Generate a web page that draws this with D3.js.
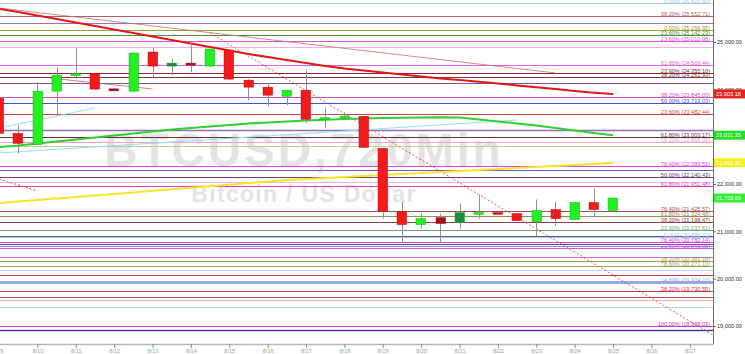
<!DOCTYPE html>
<html>
<head>
<meta charset="utf-8">
<script src="https://cdnjs.cloudflare.com/ajax/libs/d3/7.8.5/d3.min.js"></script>
<style>
  body { margin: 0; background: #fff; }
  svg { display: block; font-family: "Liberation Sans", Arial, sans-serif; }
</style>
</head>
<body>
<div id="chart"></div>
<script>
// BTCUSD 720 min candles, 9 Aug - 25 Aug 2022
const startDate = new Date(2022, 7, 9, 0, 0);
const opens  = [23813, 23071, 22838, 23961, 24300, 24322, 24010, 23961, 24788, 24491, 24555, 24491, 24830, 24194, 24046, 23855, 23982, 23370, 23425, 23431, 22753, 21417, 21142, 21290, 21184, 21390, 21400, 21375, 21205, 21460, 21248, 21608, 21438];
const highs  = [23850, 23240, 24152, 24470, 24873, 24340, 24020, 24780, 24873, 24640, 25021, 24860, 24840, 24210, 24131, 23990, 24406, 23622, 23516, 23440, 22760, 21629, 21375, 21375, 21587, 21778, 21400, 21380, 21672, 21629, 21620, 21905, 21710];
const lows   = [23050, 22647, 22816, 23452, 24258, 23990, 23970, 23950, 24258, 24300, 24364, 24480, 24200, 23770, 23643, 23664, 23283, 23177, 23346, 22760, 21269, 20760, 21057, 20760, 21057, 21269, 21395, 21220, 20887, 21120, 21240, 21290, 21430];
const closes = [23071, 22859, 23961, 24300, 24330, 24004, 23980, 24767, 24491, 24555, 24512, 24852, 24216, 24046, 23876, 23982, 23368, 23400, 23435, 22774, 21417, 21142, 21269, 21163, 21396, 21400, 21395, 21226, 21438, 21269, 21608, 21460, 21703.83];

// moving averages (one value per candle)
const maRed    = [25701, 25634, 25560, 25486, 25412, 25338, 25264, 25190, 25116, 25042, 24968, 24894, 24820, 24746, 24683, 24620, 24556, 24493, 24440, 24398, 24356, 24313, 24271, 24229, 24197, 24159, 24121, 24083, 24045, 24007, 23965, 23930, 23903.18];
const maGreen  = [22782, 22813, 22856, 22898, 22940, 22982, 23025, 23067, 23109, 23151, 23183, 23215, 23246, 23278, 23299, 23320, 23342, 23356, 23373, 23384, 23394, 23399, 23405, 23411, 23405, 23363, 23320, 23278, 23236, 23183, 23130, 23077, 23031.35];
const maYellow = [21599, 21628, 21662, 21694, 21725, 21759, 21791, 21822, 21856, 21888, 21922, 21953, 21985, 22019, 22051, 22082, 22106, 22127, 22148, 22169, 22190, 22211, 22232, 22254, 22275, 22296, 22317, 22338, 22359, 22380, 22401, 22422, 22451.36];

// fibonacci / support levels: price, label, colour
const levelPrices = [25825.60, 25552.71, 25400, 25256.95, 25142.23, 25010.95, 24894, 24509.44, 24355.10, 24261.93, 24130, 23845.03, 23713.03, 23482.44, 23150, 23003.17, 22895.39, 22800, 22389.53, 22290, 22140.43, 22040, 21951.48, 21425.57, 21324.48, 21198.47, 21037.61, 20905, 20886.70, 20782.14, 20740, 20700, 20645.05, 20458, 20381.16, 20271.10, 20183, 20077, 19934.22, 19730.55, 19613, 19549, 19401, 18999.03, 18915];
const levelLabels = ["0.00%", "38.20%", "", "0.00%", "23.60%", "23.60%", "", "61.80%", "23.60%", "38.20%", "", "38.20%", "50.00%", "23.60%", "", "61.80%", "38.20%", "", "76.40%", "", "50.00%", "", "61.80%", "76.40%", "61.80%", "38.20%", "23.60%", "", "0.00%", "76.40%", "", "", "23.60%", "", "38.20%", "78.60%", "", "", "14.60%", "38.20%", "", "", "", "100.00%", ""];
const levelColors = ["#a8c8f0", "#b06070", "#a070c0", "#a0a040", "#50903a", "#e050e0", "#f0b0e0", "#e060e0", "#902030", "#704040", "#8050a0", "#c050c0", "#5050c0", "#c04848", "#9070b0", "#603838", "#f0a0d0", "#c8c890", "#e040e0", "#6060c0", "#704070", "#f0b8d8", "#e040c0", "#a05050", "#909050", "#904040", "#70a070", "#6050a0", "#a8c8f0", "#d040d0", "#6040a0", "#7090e0", "#e050e0", "#e060e0", "#a0a050", "#a0a050", "#b0d8f0", "#c04040", "#98a8e8", "#c04040", "#c04848", "#f0b0b0", "#b8d0e8", "#c040c0", "#4040a0"];

// trendlines: [candle index, price] pairs
const trendDashed = [[11, 25190], [37.2, 18810]];
const trendThin   = [[0, 25718], [29, 24345]];
const trendShort  = [[2.66, 24239], [8, 24007]];
const trendLeft   = [[0, 22106], [2, 21852]];
const trendCyan   = [[0, 22655], [27, 23352]];
const trendCyan2  = [[0, 23183], [5, 23606]];

const priceTicks = [19000, 20000, 21000, 22000, 23000, 24000, 25000];
const darkCandles = [6, 9, 10, 23, 24];

const W = 745, H = 354, axisX = 713, axisY = 344;
const svg = d3.select("#chart").append("svg").attr("width", W).attr("height", H);

const dateOf = i => new Date(startDate.getTime() + i * 12 * 3600 * 1000);
const x = d3.scaleTime()
  .domain([startDate, new Date(2022, 7, 27, 14, 30)])
  .range([-1, axisX]);
const y = d3.scaleLinear().domain([19000, 25000]).range([326, 42]);
const bw = (x(dateOf(1)) - x(dateOf(0))) * 0.5;

// watermark
svg.append("text").attr("x", 304).attr("y", 166).attr("text-anchor", "middle")
  .attr("font-size", 46).attr("font-weight", "bold").attr("fill", "#e4e4e4")
  .attr("letter-spacing", 3)
  .text("BTCUSD,720Min");
svg.append("text").attr("x", 304).attr("y", 202).attr("text-anchor", "middle")
  .attr("font-size", 23).attr("font-weight", "bold").attr("fill", "#e4e4e4")
  .attr("letter-spacing", 1.3)
  .text("Bitcoin / US Dollar");

const plot = svg.append("g");
plot.append("clipPath").attr("id", "clip").append("rect")
  .attr("x", 0).attr("y", 0).attr("width", axisX).attr("height", axisY);

// horizontal levels
const levels = levelPrices.map((p, i) => ({ p, label: levelLabels[i], color: levelColors[i] }));
plot.selectAll(".lvl").data(levels).enter().append("line")
  .attr("x1", 0).attr("x2", axisX)
  .attr("y1", d => Math.round(y(d.p)) + 0.5).attr("y2", d => Math.round(y(d.p)) + 0.5)
  .attr("stroke", d => d.color)
  .attr("stroke-width", d => d.p === 19934.22 ? 3 : (d.p === 23150 || d.p === 18915 ? 1.6 : 1));

plot.selectAll(".lvlText").data(levels.filter(d => d.label)).enter().append("text")
  .attr("x", axisX - 3).attr("y", d => Math.round(y(d.p)) - 0.5)
  .attr("text-anchor", "end").attr("font-size", 5.6).attr("fill", d => d.color)
  .text(d => `${d.label} (${d3.format(",.2f")(d.p)})`);

// trend lines
const tl = d3.line().x(d => x(dateOf(d[0]))).y(d => y(d[1]));
const g = plot.append("g").attr("clip-path", "url(#clip)");
g.append("path").attr("d", tl(trendThin)).attr("stroke", "#c07070").attr("stroke-width", 0.8).attr("fill", "none");
g.append("path").attr("d", tl(trendShort)).attr("stroke", "#d06060").attr("stroke-width", 0.8).attr("fill", "none");
g.append("path").attr("d", tl(trendLeft)).attr("stroke", "#d04040").attr("stroke-dasharray", "2,2").attr("fill", "none");
g.append("path").attr("d", tl(trendDashed)).attr("stroke", "#d03030").attr("stroke-width", 0.8).attr("stroke-dasharray", "2,2").attr("fill", "none");
g.append("path").attr("d", tl(trendCyan)).attr("stroke", "#90e0f0").attr("stroke-width", 1).attr("fill", "none");
g.append("path").attr("d", tl(trendCyan2)).attr("stroke", "#90e0f0").attr("stroke-width", 1).attr("fill", "none");

// moving averages
const ma = d3.line().x((d, i) => x(dateOf(i))).y(d => y(d));
g.append("path").attr("d", ma(maYellow)).attr("stroke", "#f5e625").attr("stroke-width", 2).attr("fill", "none");
g.append("path").attr("d", ma(maGreen)).attr("stroke", "#30d030").attr("stroke-width", 2).attr("fill", "none");
g.append("path").attr("d", ma(maRed)).attr("stroke", "#e01818").attr("stroke-width", 2).attr("fill", "none");

// candles
const candles = opens.map((o, i) => ({ i, o, h: highs[i], l: lows[i], c: closes[i] }));
const cg = g.selectAll(".candle").data(candles).enter().append("g");
cg.append("line")
  .attr("x1", d => Math.round(x(dateOf(d.i))) + 0.5).attr("x2", d => Math.round(x(dateOf(d.i))) + 0.5)
  .attr("y1", d => y(d.h)).attr("y2", d => y(d.l))
  .attr("stroke", "#909090").attr("stroke-width", 1);
cg.append("rect")
  .attr("x", d => Math.round(x(dateOf(d.i)) - bw / 2))
  .attr("y", d => y(Math.max(d.o, d.c)))
  .attr("width", bw)
  .attr("height", d => Math.max(2, Math.abs(y(d.o) - y(d.c))))
  .attr("fill", d => {
    const up = d.c >= d.o, dark = darkCandles.includes(d.i);
    if (up) return dark ? "#208a40" : "#22f022";
    return dark ? "#a01020" : "#f21a1a";
  })
  .attr("stroke", d => d.c >= d.o ? "#18b018" : "#b01010").attr("stroke-width", 0.5);

// axes
svg.append("line").attr("x1", axisX + 0.5).attr("x2", axisX + 0.5).attr("y1", 0).attr("y2", axisY)
  .attr("stroke", "#707070");

const yAxis = svg.append("g").attr("transform", `translate(${axisX},0)`)
  .call(d3.axisRight(y).tickValues(priceTicks).tickFormat(d3.format(",.2f")).tickSize(3).tickPadding(1));
yAxis.select(".domain").remove();
yAxis.selectAll("line").attr("stroke", "#707070");
yAxis.selectAll("text").attr("font-size", 5.6).attr("fill", "#303030").attr("font-family", null);

const xAxis = svg.append("g").attr("transform", `translate(0,${axisY})`)
  .call(d3.axisBottom(x).ticks(d3.timeDay.every(1)).tickFormat(d3.timeFormat("%-m/%-d")).tickSize(4).tickPadding(1).tickSizeOuter(0));
xAxis.select(".domain").attr("stroke", "#b8b8b8").attr("stroke-width", 1.5);
xAxis.selectAll("line").attr("stroke", "#909090");
xAxis.selectAll("text").attr("font-size", 5.6).attr("fill", "#a0a0a0").attr("font-family", null);

// value boxes on price axis
const boxes = [
  { v: maRed[maRed.length - 1], fill: "#e82020" },
  { v: maGreen[maGreen.length - 1], fill: "#22e022" },
  { v: maYellow[maYellow.length - 1], fill: "#f5f020" },
  { v: closes[closes.length - 1], fill: "#30f030" }
];
const bx = svg.selectAll(".box").data(boxes).enter().append("g");
bx.append("rect").attr("x", axisX + 1).attr("y", d => y(d.v) - 4.5).attr("width", W - axisX - 1).attr("height", 9)
  .attr("fill", d => d.fill);
bx.append("text").attr("x", axisX + 3).attr("y", d => y(d.v) + 2)
  .attr("font-size", 5.6).attr("fill", "#fff").text(d => d3.format(",.2f")(d.v));
</script>
</body>
</html>
